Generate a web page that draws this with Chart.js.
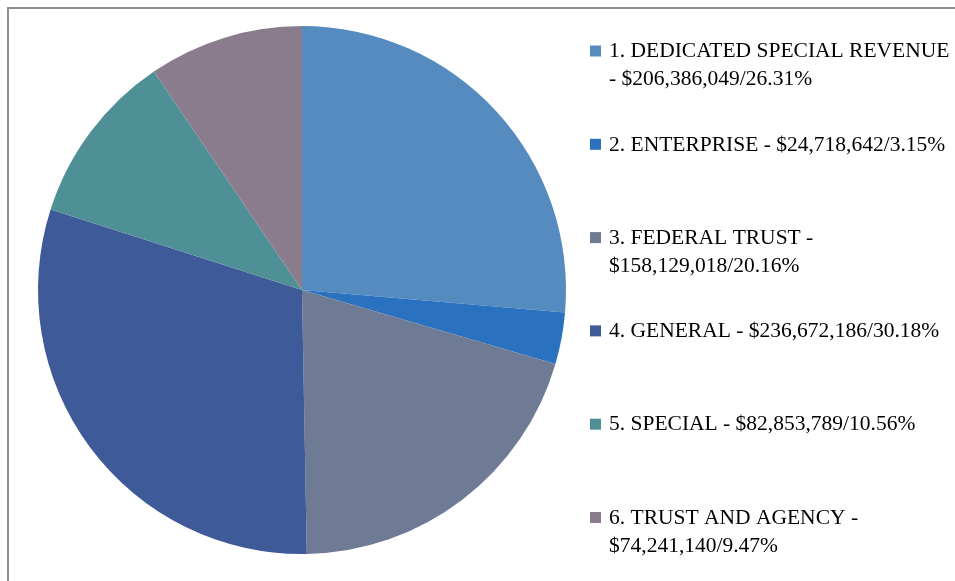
<!DOCTYPE html>
<html>
<head>
<meta charset="utf-8">
<script src="https://cdn.jsdelivr.net/npm/chart.js@4.4.1/dist/chart.umd.min.js"></script>
<style>
  html, body { margin: 0; padding: 0; background: #fff; }
  #wrap { position: relative; width: 955px; height: 581px; overflow: hidden; }
  #frame { position: absolute; left: 7px; top: 7px; width: 960px; height: 600px;
           border-left: 2px solid #8e8e8e; border-top: 2px solid #8e8e8e; box-sizing: border-box; }
  canvas { position: absolute; left: 0; top: 0; }
</style>
</head>
<body>
<div id="wrap">
  <div id="frame"></div>
  <canvas id="c" width="955" height="581"></canvas>
</div>
<script>
const categories = [
  "1. DEDICATED SPECIAL REVENUE",
  "2. ENTERPRISE",
  "3. FEDERAL TRUST",
  "4. GENERAL",
  "5. SPECIAL",
  "6. TRUST AND AGENCY"
];
const amounts = [206386049, 24718642, 158129018, 236672186, 82853789, 74241140];
const percents = ["26.31%", "3.15%", "20.16%", "30.18%", "10.56%", "9.47%"];
const legendLines = [
  ["1. DEDICATED SPECIAL REVENUE", "- $206,386,049/26.31%"],
  ["2. ENTERPRISE - $24,718,642/3.15%"],
  ["3. FEDERAL TRUST -", "$158,129,018/20.16%"],
  ["4. GENERAL - $236,672,186/30.18%"],
  ["5. SPECIAL - $82,853,789/10.56%"],
  ["6. TRUST AND AGENCY -", "$74,241,140/9.47%"]
];
const colors = ["#558bbe", "#2a71c0", "#6f7b95", "#3f5a99", "#4f8f96", "#8a7c8d"];

const legendPlugin = {
  id: 'sideLegend',
  afterDraw(chart) {
    const ctx = chart.ctx;
    ctx.save();
    ctx.font = '20px "Liberation Serif", "Times New Roman", serif';
    ctx.textBaseline = 'middle';
    const x0 = 590, y0 = 51, step = 93.3, lh = 28, sx = 1.075;
    const ds = chart.data.datasets[0];
    legendLines.forEach((lines, i) => {
      const y = y0 + i * step;
      ctx.fillStyle = ds.backgroundColor[i];
      ctx.fillRect(x0, y - 5.5, 11, 11);
      ctx.fillStyle = '#000';
      lines.forEach((t, j) => {
        ctx.save();
        ctx.translate(x0 + 19, y + j * lh + 1);
        ctx.scale(sx, 1);
        ctx.fillText(t, 0, 0);
        ctx.restore();
      });
    });
    ctx.restore();
  }
};

new Chart(document.getElementById('c'), {
  type: 'pie',
  data: {
    labels: categories,
    datasets: [{
      data: amounts,
      backgroundColor: colors,
      borderWidth: 0
    }]
  },
  options: {
    responsive: false,
    animation: false,
    layout: { padding: { left: 38, top: 26, right: 389, bottom: 27 } },
    plugins: { legend: { display: false }, tooltip: { enabled: false } }
  },
  plugins: [legendPlugin]
});
</script>
</body>
</html>
